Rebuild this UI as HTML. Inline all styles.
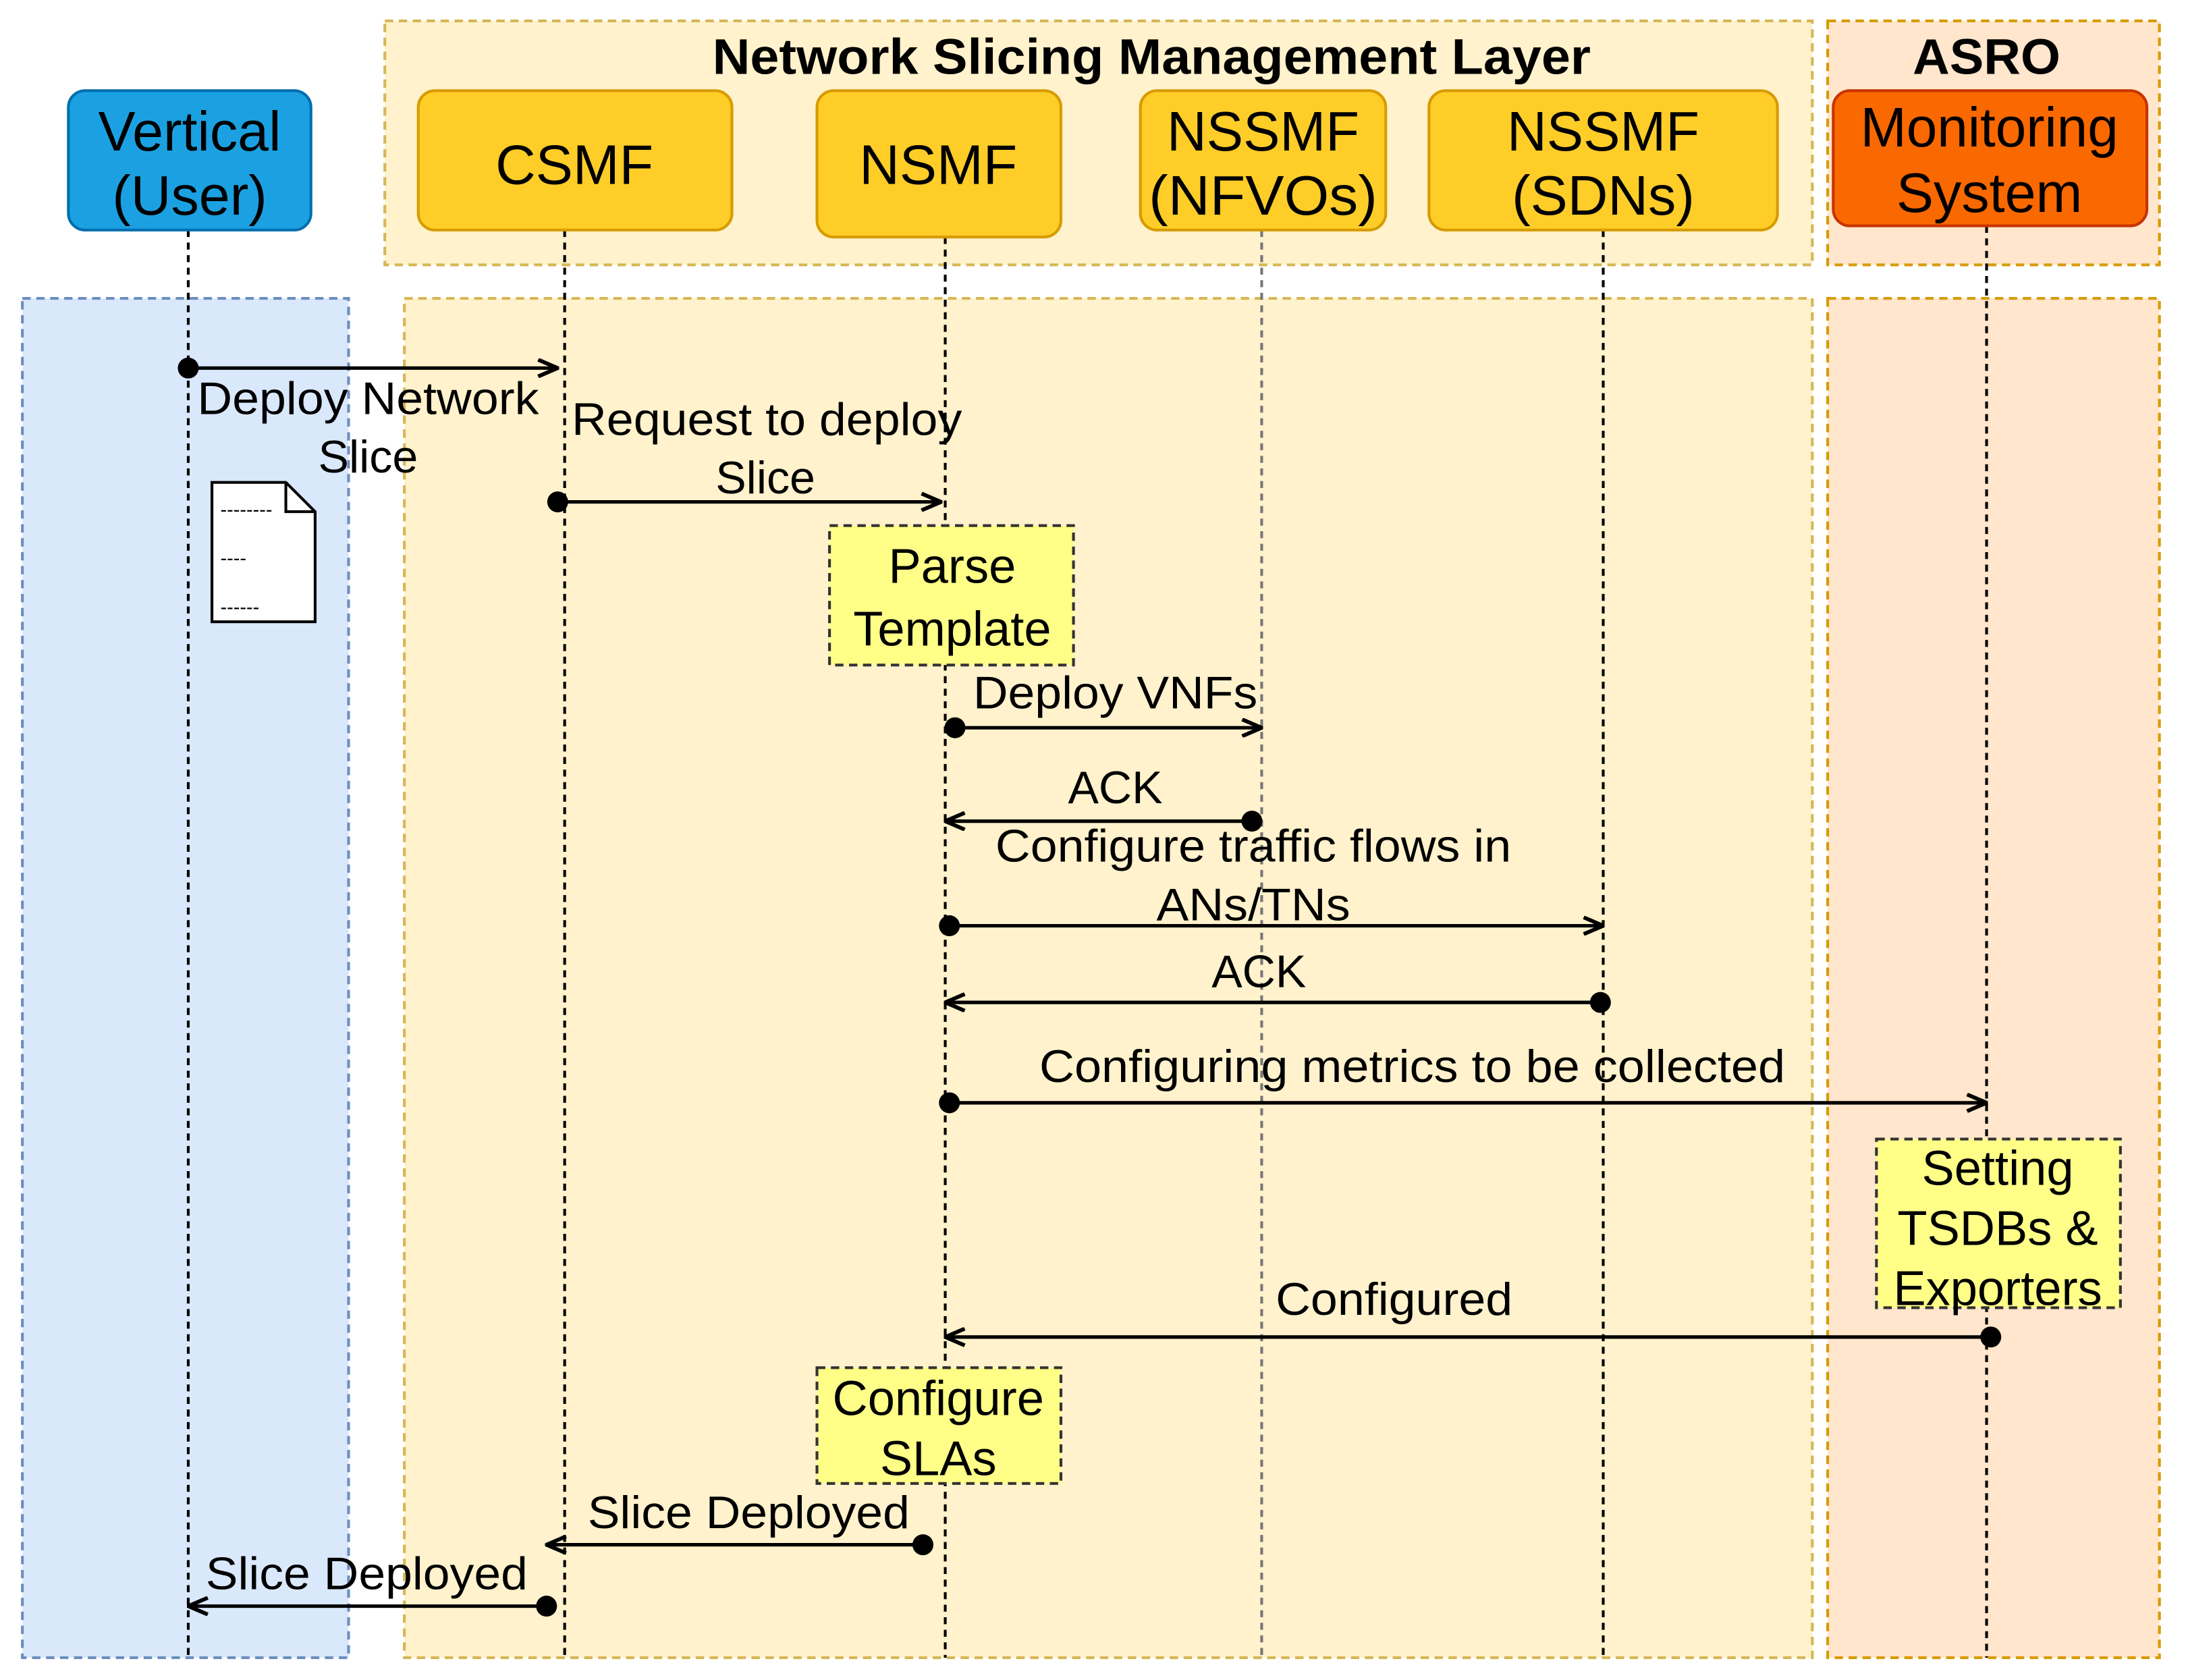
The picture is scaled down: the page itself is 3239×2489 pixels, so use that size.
<!DOCTYPE html>
<html><head><meta charset="utf-8"><style>html,body{margin:0;padding:0;background:#fff}svg{display:block}</style></head>
<body>
<svg xmlns="http://www.w3.org/2000/svg" width="3239" height="2489" viewBox="0 0 1568 1205" font-family="Liberation Sans, Arial, sans-serif">
<defs>
<marker id="a" viewBox="0 0 16 14" refX="15" refY="7" markerWidth="16" markerHeight="14" orient="auto" markerUnits="userSpaceOnUse"><path d="M1,1 L15,7 L1,13" fill="none" stroke="#000" stroke-width="2.8"/></marker>
</defs>
<rect width="1568" height="1205" fill="#fff"/>
<rect x="276" y="15" width="1024" height="175" fill="#fff2cc" stroke="#d6b656" stroke-width="2" stroke-dasharray="6,4"/>
<rect x="1311" y="15" width="238" height="175" fill="#ffe6cc" stroke="#d79b00" stroke-width="2" stroke-dasharray="6,4"/>
<rect x="16" y="214" width="234" height="975" fill="#dae8fc" stroke="#6c8ebf" stroke-width="2" stroke-dasharray="6,4"/>
<rect x="290" y="214" width="1010" height="975" fill="#fff2cc" stroke="#d6b656" stroke-width="2" stroke-dasharray="6,4"/>
<rect x="1311" y="214" width="238" height="975" fill="#ffe6cc" stroke="#d79b00" stroke-width="2" stroke-dasharray="6,4"/>
<text x="826" y="53" font-size="36" font-weight="bold" text-anchor="middle" textLength="630" lengthAdjust="spacingAndGlyphs">Network Slicing Management Layer</text>
<text x="1425" y="53" font-size="36" font-weight="bold" text-anchor="middle" textLength="106" lengthAdjust="spacingAndGlyphs">ASRO</text>
<g stroke="#000" stroke-width="2" stroke-dasharray="5,4">
<line x1="135" y1="165" x2="135" y2="1189"/>
<line x1="405" y1="165" x2="405" y2="1189"/>
<line x1="678" y1="170" x2="678" y2="1189"/>
<line x1="905" y1="165" x2="905" y2="1189" stroke="#777"/>
<line x1="1150" y1="165" x2="1150" y2="1189"/>
<line x1="1425" y1="162" x2="1425" y2="1189"/>
</g>
<g font-size="40" text-anchor="middle">
<rect x="49" y="65" width="174" height="100" rx="12" fill="#1ba1e2" stroke="#006eaf" stroke-width="2"/>
<text x="136" y="108">Vertical</text><text x="136" y="154">(User)</text>
<rect x="300" y="65" width="225" height="100" rx="12" fill="#ffcd28" stroke="#d79b00" stroke-width="2"/>
<text x="412" y="132">CSMF</text>
<rect x="586" y="65" width="175" height="105" rx="12" fill="#ffcd28" stroke="#d79b00" stroke-width="2"/>
<text x="673" y="132">NSMF</text>
<rect x="818" y="65" width="176" height="100" rx="12" fill="#ffcd28" stroke="#d79b00" stroke-width="2"/>
<text x="906" y="108" textLength="138" lengthAdjust="spacingAndGlyphs">NSSMF</text><text x="906" y="154" textLength="164" lengthAdjust="spacingAndGlyphs">(NFVOs)</text>
<rect x="1025" y="65" width="250" height="100" rx="12" fill="#ffcd28" stroke="#d79b00" stroke-width="2"/>
<text x="1150" y="108" textLength="138" lengthAdjust="spacingAndGlyphs">NSSMF</text><text x="1150" y="154">(SDNs)</text>
<rect x="1315" y="65" width="225" height="97" rx="12" fill="#fa6800" stroke="#c73500" stroke-width="2"/>
<text x="1427" y="105" textLength="185" lengthAdjust="spacingAndGlyphs">Monitoring</text><text x="1427" y="152">System</text>
</g>
<path d="M152,346 H205 L226,367 V446 H152 Z" fill="#fff" stroke="#000" stroke-width="2"/>
<path d="M205,346 V367 H226" fill="none" stroke="#000" stroke-width="2"/>
<g font-size="14"><text x="158" y="370">--------</text><text x="158" y="405">----</text><text x="158" y="440">------</text></g>
<g stroke="#333" stroke-width="2" stroke-dasharray="6,4" fill="#ffff88">
<rect x="595" y="377" width="175" height="100"/>
<rect x="1346" y="817" width="175" height="121"/>
<rect x="586" y="981" width="175" height="83"/>
</g>
<g font-size="35" text-anchor="middle">
<text x="683" y="418">Parse</text><text x="683" y="463">Template</text>
<text x="1433" y="850">Setting</text><text x="1433" y="893">TSDBs &amp;</text><text x="1433" y="936">Exporters</text>
<text x="673" y="1015">Configure</text><text x="673" y="1058">SLAs</text>
</g>
<g stroke="#000" stroke-width="2.5" fill="none" marker-end="url(#a)">
<line x1="135" y1="264" x2="400" y2="264"/>
<line x1="400" y1="360" x2="675" y2="360"/>
<line x1="685" y1="522" x2="905" y2="522"/>
<line x1="898" y1="589" x2="678" y2="589"/>
<line x1="681" y1="664" x2="1150" y2="664"/>
<line x1="1148" y1="719" x2="678" y2="719"/>
<line x1="681" y1="791" x2="1425" y2="791"/>
<line x1="1428" y1="959" x2="678" y2="959"/>
<line x1="662" y1="1108" x2="392" y2="1108"/>
<line x1="392" y1="1152" x2="135" y2="1152"/>
</g>
<g fill="#000">
<circle cx="135" cy="264" r="7.5"/><circle cx="400" cy="360" r="7.5"/><circle cx="685" cy="522" r="7.5"/>
<circle cx="898" cy="589" r="7.5"/><circle cx="681" cy="664" r="7.5"/><circle cx="1148" cy="719" r="7.5"/>
<circle cx="681" cy="791" r="7.5"/><circle cx="1428" cy="959" r="7.5"/><circle cx="662" cy="1108" r="7.5"/>
<circle cx="392" cy="1152" r="7.5"/>
</g>
<g font-size="33" text-anchor="middle" lengthAdjust="spacingAndGlyphs">
<text x="264" y="297" textLength="245" lengthAdjust="spacingAndGlyphs">Deploy Network</text><text x="264" y="339">Slice</text>
<text x="550" y="312" textLength="280" lengthAdjust="spacingAndGlyphs">Request to deploy</text><text x="549" y="354">Slice</text>
<text x="800" y="508" textLength="204" lengthAdjust="spacingAndGlyphs">Deploy VNFs</text>
<text x="800" y="576">ACK</text>
<text x="899" y="618" textLength="370" lengthAdjust="spacingAndGlyphs">Configure traffic flows in</text><text x="899" y="660" textLength="139" lengthAdjust="spacingAndGlyphs">ANs/TNs</text>
<text x="903" y="708">ACK</text>
<text x="1013" y="776" textLength="535" lengthAdjust="spacingAndGlyphs">Configuring metrics to be collected</text>
<text x="1000" y="943" textLength="170" lengthAdjust="spacingAndGlyphs">Configured</text>
<text x="537" y="1096" textLength="231" lengthAdjust="spacingAndGlyphs">Slice Deployed</text>
<text x="263" y="1140" textLength="231" lengthAdjust="spacingAndGlyphs">Slice Deployed</text>
</g>
</svg>
</body></html>
